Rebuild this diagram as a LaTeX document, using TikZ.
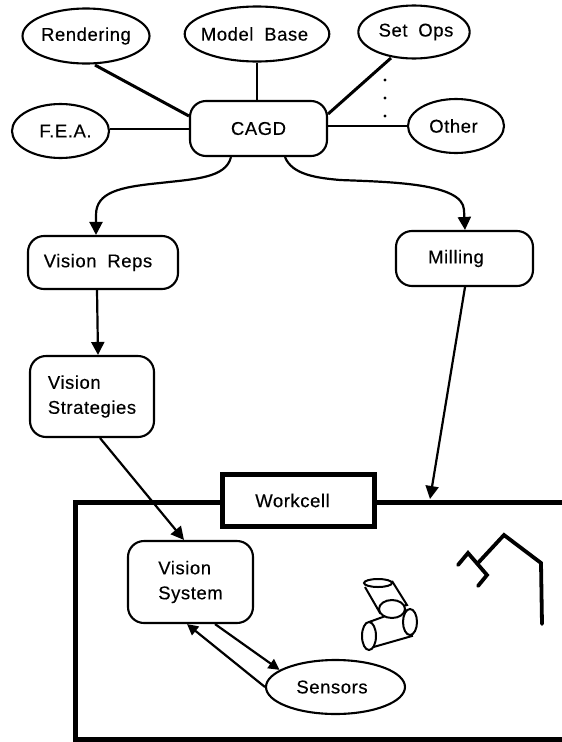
\documentclass[tikz,border=0pt]{standalone}
\usepackage{fontspec}
\setmainfont{Liberation Sans}[LetterSpace=3,FakeBold=0.35,WordSpace=1.9]
\usetikzlibrary{shapes.geometric,arrows.meta}
\newcommand{\nudge}[1]{\hspace*{#1pt}}
\tikzset{
  base/.style={draw=black,line width=2.1pt,fill=white,inner sep=0pt,font=\fontsize{18.5}{25}\selectfont,text=black},
  oval/.style={base,ellipse},
  rbox/.style={base,rectangle,rounded corners=16pt,align=left},
  link/.style={draw=black,line width=2.2pt},
  boldlink/.style={draw=black,line width=3pt},
  flow/.style={link,-{Triangle[length=13pt,width=13pt]}},
  smallflow/.style={link,-{Triangle[length=11pt,width=11pt]}},
  heavy/.style={draw=black,line width=5pt,line join=miter},
  robot/.style={draw=black,line width=3.8pt,line join=miter,line cap=round},
  part/.style={draw=black,line width=2pt,fill=white},
  dotmark/.style={circle,fill=black,inner sep=0pt,minimum size=3.4pt}
}
\begin{document}
\begin{tikzpicture}[x=1pt,y=-1pt]
\useasboundingbox (0,0) rectangle (562,742);
\draw[heavy] (562,502) -- (75,502) -- (75,739.5) -- (562,739.5);
\node[oval,minimum width=124pt,minimum height=55pt] (rend) at (86,36) {Rendering};
\node[oval,minimum width=138pt,minimum height=55pt] (model) at (257,34) {\nudge{-5}Model Base};
\node[oval,minimum width=96pt,minimum height=53pt] (setops) at (414,32) {\nudge{4}Set Ops};
\node[oval,minimum width=97pt,minimum height=54pt] (fea) at (60.5,131) {\nudge{10}F.E.A.};
\node[oval,minimum width=96pt,minimum height=54pt] (other) at (456,126) {\nudge{-5}Other};
\node[rbox,minimum width=137pt,minimum height=55pt] (cagd) at (258.5,128.5) {CAGD};
\node[rbox,minimum width=150pt,minimum height=53pt] (vreps) at (103,262.5) {\nudge{-10}Vision Reps};
\node[rbox,minimum width=137pt,minimum height=55pt] (mill) at (464.5,258.5) {\nudge{-17}Milling};
\node[rbox,minimum width=124pt,minimum height=81pt] (vstrat) at (92,396.5) {Vision\\Strategies};
\node[base,rectangle,line width=5pt,minimum width=152pt,minimum height=52pt] (work) at (298.5,500.5) {\nudge{-12}Workcell};
\node[rbox,minimum width=125pt,minimum height=82pt] (vsys) at (190.5,582) {Vision\\System};
\node[oval,minimum width=139pt,minimum height=54pt] (sens) at (335.5,687) {\nudge{-7}Sensors};
\node[dotmark] (d1) at (385,80) {};
\node[dotmark] (d2) at (385,98) {};
\node[dotmark] (d3) at (385,116) {};
\draw[boldlink] (rend.south -| 95,0) ++(0,0.5) -- (cagd.west |- 0,116);
\draw[link] (model.south) -- (model.south |- cagd.north);
\draw[boldlink] (391,58) -- (cagd.east |- 0,114);
\draw[link] (fea.east |- 0,129) -- (cagd.west |- 0,129);
\draw[link] (cagd.east |- 0,126) -- (other.west |- 0,126);
\draw[flow] (231,157) .. controls (226,178) and (195,179) .. (160,183) .. controls (120,187) and (96,192) .. (96,215) -- (vreps.north -| 96,0);
\draw[flow] (285,157) .. controls (292,175) and (318,178) .. (340,180) .. controls (390,182) and (463,183) .. (464,210) -- (mill.north -| 465,0);
\draw[flow] (vreps.south -| 97,0) -- (vstrat.north -| 98,0);
\draw[flow] (vstrat.south -| 100,0) -- (vsys.north -| 184,0);
\draw[flow] (mill.south -| 465,0) -- (430,499);
\draw[smallflow] (sens.west) -- (vsys.south -| 187,0);
\draw[smallflow] (vsys.south -| 215,0) -- (sens.163);
\draw[robot] (458,565) -- (468,553) -- (487,575) -- (478,586);
\draw[robot] (478,563) -- (504,535) -- (541,563) -- (542,624);
\draw[part] (365,587) -- (380,613) -- (407,605) -- (392,581);
\draw[part] (378,583) ellipse [x radius=14pt,y radius=4pt];
\draw[part] (369,622) -- (405,609) -- (412,636) -- (370,648);
\draw[part] (369,636) ellipse [x radius=7pt,y radius=14pt];
\draw[part] (410,622) ellipse [x radius=7pt,y radius=13pt];
\draw[part] (392,609) ellipse [x radius=13pt,y radius=9pt];
\end{tikzpicture}
\end{document}
